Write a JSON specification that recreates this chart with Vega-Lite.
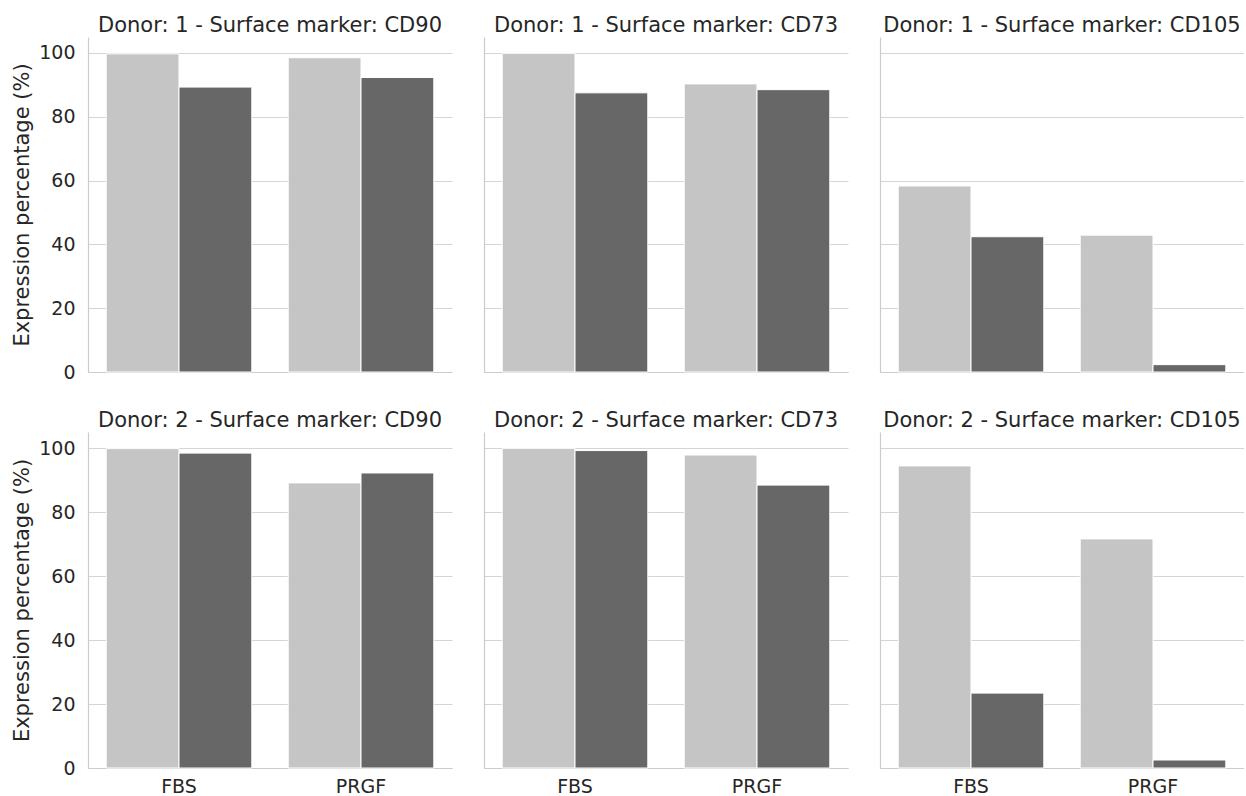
{
  "$schema": "https://vega.github.io/schema/vega-lite/v6.json",
  "padding": {"left": 11, "top": 15, "right": 0, "bottom": 0},
  "spacing": 28,
  "background": "white",
  "data": {"values": [
    {"donor": 1, "marker": "CD90", "medium": "FBS", "group": "Group 1", "value": 99.7},
    {"donor": 1, "marker": "CD90", "medium": "FBS", "group": "Group 2", "value": 89.3},
    {"donor": 1, "marker": "CD90", "medium": "PRGF", "group": "Group 1", "value": 98.5},
    {"donor": 1, "marker": "CD90", "medium": "PRGF", "group": "Group 2", "value": 92.3},
    {"donor": 1, "marker": "CD73", "medium": "FBS", "group": "Group 1", "value": 99.9},
    {"donor": 1, "marker": "CD73", "medium": "FBS", "group": "Group 2", "value": 87.5},
    {"donor": 1, "marker": "CD73", "medium": "PRGF", "group": "Group 1", "value": 90.3},
    {"donor": 1, "marker": "CD73", "medium": "PRGF", "group": "Group 2", "value": 88.5},
    {"donor": 1, "marker": "CD105", "medium": "FBS", "group": "Group 1", "value": 58.3},
    {"donor": 1, "marker": "CD105", "medium": "FBS", "group": "Group 2", "value": 42.4},
    {"donor": 1, "marker": "CD105", "medium": "PRGF", "group": "Group 1", "value": 42.9},
    {"donor": 1, "marker": "CD105", "medium": "PRGF", "group": "Group 2", "value": 2.3},
    {"donor": 2, "marker": "CD90", "medium": "FBS", "group": "Group 1", "value": 99.8},
    {"donor": 2, "marker": "CD90", "medium": "FBS", "group": "Group 2", "value": 98.4},
    {"donor": 2, "marker": "CD90", "medium": "PRGF", "group": "Group 1", "value": 89.1},
    {"donor": 2, "marker": "CD90", "medium": "PRGF", "group": "Group 2", "value": 92.2},
    {"donor": 2, "marker": "CD73", "medium": "FBS", "group": "Group 1", "value": 99.9},
    {"donor": 2, "marker": "CD73", "medium": "FBS", "group": "Group 2", "value": 99.2},
    {"donor": 2, "marker": "CD73", "medium": "PRGF", "group": "Group 1", "value": 97.8},
    {"donor": 2, "marker": "CD73", "medium": "PRGF", "group": "Group 2", "value": 88.4},
    {"donor": 2, "marker": "CD105", "medium": "FBS", "group": "Group 1", "value": 94.4},
    {"donor": 2, "marker": "CD105", "medium": "FBS", "group": "Group 2", "value": 23.4},
    {"donor": 2, "marker": "CD105", "medium": "PRGF", "group": "Group 1", "value": 71.6},
    {"donor": 2, "marker": "CD105", "medium": "PRGF", "group": "Group 2", "value": 2.5}
  ]},
  "config": {
    "font": "DejaVu Sans",
    "view": {"stroke": null},
    "title": {"fontSize": 21, "fontWeight": "normal", "color": "#262626", "anchor": "middle", "baseline": "alphabetic", "offset": 1, "font": "DejaVu Sans"},
    "axis": {"domainColor": "#cccccc", "domainWidth": 1.2, "gridColor": "#d5d5d5", "gridWidth": 1.2, "ticks": false, "labelFontSize": 19, "labelColor": "#262626", "titleFontSize": 21, "titleFontWeight": "normal", "titleColor": "#262626", "labelFont": "DejaVu Sans", "titleFont": "DejaVu Sans"}
  },
  "vconcat": [
    {
      "spacing": 32,
      "hconcat": [
        {
          "width": 364, "height": 335,
          "title": "Donor: 1 - Surface marker: CD90",
          "transform": [{"filter": "datum.donor == 1 && datum.marker == 'CD90'"}],
          "mark": {"type": "bar", "stroke": "white", "strokeWidth": 1},
          "encoding": {
            "x": {"field": "medium", "type": "nominal", "sort": ["FBS", "PRGF"], "scale": {"paddingInner": 0.2, "paddingOuter": 0.1}, "axis": {"title": null, "labels": false, "grid": false}},
            "xOffset": {"field": "group", "type": "nominal"},
            "y": {"field": "value", "type": "quantitative", "scale": {"domain": [0, 105], "nice": false}, "axis": {"title": "Expression percentage (%)", "values": [0, 20, 40, 60, 80, 100], "labelPadding": 13, "titlePadding": 6}},
            "color": {"field": "group", "type": "nominal", "scale": {"domain": ["Group 1", "Group 2"], "range": ["#c5c5c5", "#676767"]}, "legend": null}
          }
        },
        {
          "width": 364, "height": 335,
          "title": "Donor: 1 - Surface marker: CD73",
          "transform": [{"filter": "datum.donor == 1 && datum.marker == 'CD73'"}],
          "mark": {"type": "bar", "stroke": "white", "strokeWidth": 1},
          "encoding": {
            "x": {"field": "medium", "type": "nominal", "sort": ["FBS", "PRGF"], "scale": {"paddingInner": 0.2, "paddingOuter": 0.1}, "axis": {"title": null, "labels": false, "grid": false}},
            "xOffset": {"field": "group", "type": "nominal"},
            "y": {"field": "value", "type": "quantitative", "scale": {"domain": [0, 105], "nice": false}, "axis": {"title": null, "labels": false, "values": [0, 20, 40, 60, 80, 100]}},
            "color": {"field": "group", "type": "nominal", "scale": {"domain": ["Group 1", "Group 2"], "range": ["#c5c5c5", "#676767"]}, "legend": null}
          }
        },
        {
          "width": 364, "height": 335,
          "title": "Donor: 1 - Surface marker: CD105",
          "transform": [{"filter": "datum.donor == 1 && datum.marker == 'CD105'"}],
          "mark": {"type": "bar", "stroke": "white", "strokeWidth": 1},
          "encoding": {
            "x": {"field": "medium", "type": "nominal", "sort": ["FBS", "PRGF"], "scale": {"paddingInner": 0.2, "paddingOuter": 0.1}, "axis": {"title": null, "labels": false, "grid": false}},
            "xOffset": {"field": "group", "type": "nominal"},
            "y": {"field": "value", "type": "quantitative", "scale": {"domain": [0, 105], "nice": false}, "axis": {"title": null, "labels": false, "values": [0, 20, 40, 60, 80, 100]}},
            "color": {"field": "group", "type": "nominal", "scale": {"domain": ["Group 1", "Group 2"], "range": ["#c5c5c5", "#676767"]}, "legend": null}
          }
        }
      ]
    },
    {
      "spacing": 32,
      "hconcat": [
        {
          "width": 364, "height": 336,
          "title": "Donor: 2 - Surface marker: CD90",
          "transform": [{"filter": "datum.donor == 2 && datum.marker == 'CD90'"}],
          "mark": {"type": "bar", "stroke": "white", "strokeWidth": 1},
          "encoding": {
            "x": {"field": "medium", "type": "nominal", "sort": ["FBS", "PRGF"], "scale": {"paddingInner": 0.2, "paddingOuter": 0.1}, "axis": {"title": null, "labelAngle": 0, "labelPadding": 9, "grid": false}},
            "xOffset": {"field": "group", "type": "nominal"},
            "y": {"field": "value", "type": "quantitative", "scale": {"domain": [0, 105], "nice": false}, "axis": {"title": "Expression percentage (%)", "values": [0, 20, 40, 60, 80, 100], "labelPadding": 13, "titlePadding": 6}},
            "color": {"field": "group", "type": "nominal", "scale": {"domain": ["Group 1", "Group 2"], "range": ["#c5c5c5", "#676767"]}, "legend": null}
          }
        },
        {
          "width": 364, "height": 336,
          "title": "Donor: 2 - Surface marker: CD73",
          "transform": [{"filter": "datum.donor == 2 && datum.marker == 'CD73'"}],
          "mark": {"type": "bar", "stroke": "white", "strokeWidth": 1},
          "encoding": {
            "x": {"field": "medium", "type": "nominal", "sort": ["FBS", "PRGF"], "scale": {"paddingInner": 0.2, "paddingOuter": 0.1}, "axis": {"title": null, "labelAngle": 0, "labelPadding": 9, "grid": false}},
            "xOffset": {"field": "group", "type": "nominal"},
            "y": {"field": "value", "type": "quantitative", "scale": {"domain": [0, 105], "nice": false}, "axis": {"title": null, "labels": false, "values": [0, 20, 40, 60, 80, 100]}},
            "color": {"field": "group", "type": "nominal", "scale": {"domain": ["Group 1", "Group 2"], "range": ["#c5c5c5", "#676767"]}, "legend": null}
          }
        },
        {
          "width": 364, "height": 336,
          "title": "Donor: 2 - Surface marker: CD105",
          "transform": [{"filter": "datum.donor == 2 && datum.marker == 'CD105'"}],
          "mark": {"type": "bar", "stroke": "white", "strokeWidth": 1},
          "encoding": {
            "x": {"field": "medium", "type": "nominal", "sort": ["FBS", "PRGF"], "scale": {"paddingInner": 0.2, "paddingOuter": 0.1}, "axis": {"title": null, "labelAngle": 0, "labelPadding": 9, "grid": false}},
            "xOffset": {"field": "group", "type": "nominal"},
            "y": {"field": "value", "type": "quantitative", "scale": {"domain": [0, 105], "nice": false}, "axis": {"title": null, "labels": false, "values": [0, 20, 40, 60, 80, 100]}},
            "color": {"field": "group", "type": "nominal", "scale": {"domain": ["Group 1", "Group 2"], "range": ["#c5c5c5", "#676767"]}, "legend": null}
          }
        }
      ]
    }
  ]
}
